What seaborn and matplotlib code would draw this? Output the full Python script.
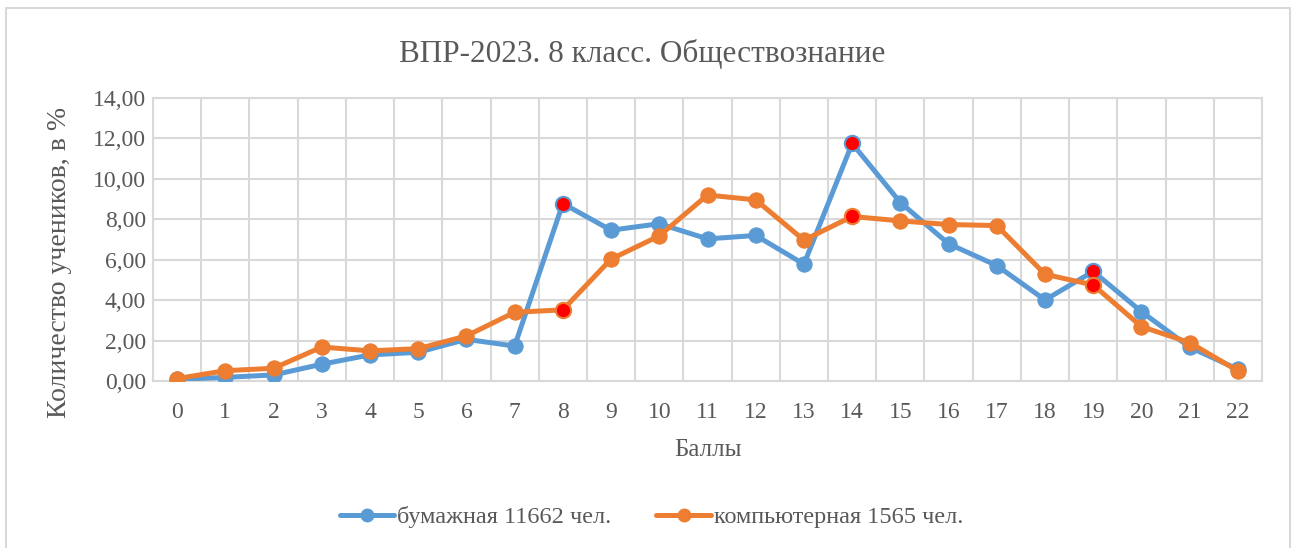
import pandas as pd
import matplotlib.pyplot as plt
import seaborn as sns
from matplotlib.patches import Rectangle
from matplotlib.lines import Line2D

# data
scores = list(range(23))
paper = [0.08, 0.18, 0.30, 0.83, 1.29, 1.42, 2.06, 1.73, 8.78, 7.46, 7.78, 7.03,
         7.20, 5.78, 11.75, 8.83, 6.79, 5.71, 4.01, 5.42, 3.43, 1.67, 0.58]
computer = [0.12, 0.51, 0.63, 1.68, 1.49, 1.60, 2.23, 3.40, 3.52, 6.03, 7.18, 9.20,
            8.96, 6.97, 8.14, 7.92, 7.74, 7.69, 5.28, 4.75, 2.69, 1.90, 0.50]
highlight = [8, 14, 19]
paper_label = "бумажная 11662 чел."
computer_label = "компьютерная 1565 чел."

blue = "#5B9BD5"
orange = "#ED7D31"
grey_text = "#595959"
grid_col = "#D9D9D9"

sns.set_theme(style="white")
plt.rcParams["font.family"] = ["Liberation Serif", "DejaVu Serif"]

df = pd.DataFrame({"score": scores, "paper": paper, "computer": computer})

fig = plt.figure(figsize=(12.92, 5.48), dpi=100)
ax = fig.add_axes([153 / 1292, 1 - 381 / 548, (1262 - 153) / 1292, (381 - 98) / 548])

sns.lineplot(data=df, x="score", y="paper", ax=ax, color=blue, lw=3.6,
             marker="o", markersize=11, markeredgecolor=blue, zorder=3)
sns.lineplot(data=df, x="score", y="computer", ax=ax, color=orange, lw=3.6,
             marker="o", markersize=11, markeredgecolor=orange, zorder=4)

# red highlighted points
hl = df[df["score"].isin(highlight)]
ax.plot(hl["score"], hl["paper"], "o", ms=11, mfc="red", mec=blue, mew=1.5, zorder=5)
ax.plot(hl["score"], hl["computer"], "o", ms=11, mfc="red", mec=orange, mew=1.5, zorder=6)

ax.set_xlim(-0.5, 22.5)
ax.set_ylim(0, 14)
ax.set_xticks(scores)
ax.set_xticks([s + 0.5 for s in range(-1, 23)], minor=True)
ax.set_yticks(range(0, 15, 2))
ax.set_yticklabels([f"{v:.2f}".replace(".", ",") for v in range(0, 15, 2)])
ax.grid(True, which="major", axis="y", color=grid_col, lw=1.5)
ax.grid(True, which="minor", axis="x", color=grid_col, lw=1.5)
ax.grid(False, which="major", axis="x")
ax.tick_params(which="both", length=0, labelsize=17, labelcolor=grey_text)
ax.tick_params(axis="x", pad=15)
ax.tick_params(axis="y", pad=5)
for sp in ax.spines.values():
    sp.set_color(grid_col)
    sp.set_linewidth(1.5)
ax.set_xlabel("")
ax.set_ylabel("")

fig.text(0.497, 1 - 62 / 548, "ВПР-2023. 8 класс. Обществознание", ha="center",
         va="baseline", fontsize=22.5, color=grey_text)
fig.text((153 + 1262) / 2 / 1292, 1 - 456 / 548, "Баллы", ha="center", va="baseline",
         fontsize=18, color=grey_text)
fig.text(60 / 1292, 1 - 262 / 548, "Количество учеников, в %", ha="center", va="center",
         rotation=90, fontsize=20, color=grey_text)

handles = [Line2D([], [], color=blue, lw=3.6, marker="o", ms=9),
           Line2D([], [], color=orange, lw=3.6, marker="o", ms=9)]
fig.legend(handles, [paper_label, computer_label], loc="center",
           bbox_to_anchor=(0.5043, 1 - 517 / 548), ncol=2, frameon=False,
           fontsize=17.5, labelcolor=grey_text, handlelength=2.25, handletextpad=0.12,
           columnspacing=1.85)

fig.patches.append(Rectangle((6 / 1292, -0.05), (1290 - 6) / 1292, 1.05 - 8 / 548,
                             transform=fig.transFigure, fill=False,
                             edgecolor=grid_col, lw=1.5))

fig.savefig("out.png", dpi=100)
